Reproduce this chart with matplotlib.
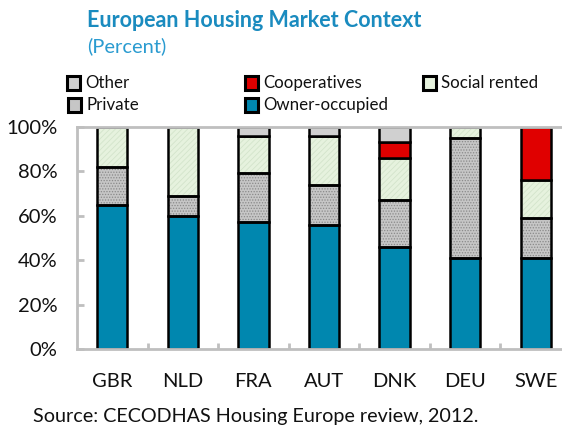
import numpy as np
import matplotlib
matplotlib.use("Agg")
import matplotlib.pyplot as plt
from matplotlib.patches import Rectangle

plt.rcParams['font.family'] = ['Lato', 'DejaVu Sans']
plt.rcParams['hatch.linewidth'] = 0.6

# data (percent of housing stock)
countries = ["GBR", "NLD", "FRA", "AUT", "DNK", "DEU", "SWE"]
owner = [65, 60, 57, 56, 46, 41, 41]
private = [17, 9, 22, 18, 21, 54, 18]
social = [18, 31, 17, 22, 19, 5, 17]
coops = [0, 0, 0, 0, 7, 0, 24]
other = [0, 0, 4, 4, 7, 0, 0]

series = [
    ("Owner-occupied", owner, "#0087AF", None, None),
    ("Private", private, "#C6C6C6", "......", "#8A8A8A"),
    ("Social rented", social, "#E6F2DE", "//////", "#D3E4CB"),
    ("Cooperatives", coops, "#E00000", None, None),
    ("Other", other, "#D0D0D0", None, None),
]

fig = plt.figure(figsize=(5.62, 4.25), dpi=100)
ax = fig.add_axes([0.137, 0.178, 0.879, 0.524])

x = np.arange(len(countries))
width = 0.43
bottom = np.zeros(len(countries))
for name, vals, color, hatch, hcol in series:
    vals = np.array(vals, dtype=float)
    if hatch:
        ax.bar(x, vals, width, bottom=bottom, color=color, hatch=hatch,
               edgecolor=hcol, linewidth=0, zorder=2)
        ax.bar(x, vals, width, bottom=bottom, fill=False,
               edgecolor="black", linewidth=1.8, zorder=3)
    else:
        ax.bar(x, vals, width, bottom=bottom, color=color,
               edgecolor="black", linewidth=1.8, zorder=3)
    bottom += vals

ax.set_xlim(-0.5, len(countries) - 0.5)
ax.set_ylim(0, 100)
ax.set_yticks([0, 20, 40, 60, 80, 100])
ax.set_yticklabels([f"{v}%" for v in [0, 20, 40, 60, 80, 100]])
ax.set_xticks(x)
ax.set_xticklabels(countries)
ax.set_xticks(np.arange(0.5, len(countries) - 1, 1.0), minor=True)

for s in ax.spines.values():
    s.set_color("#BFBFBF")
    s.set_linewidth(2)
    s.set_zorder(4)

ax.tick_params(axis="y", direction="in", length=5, width=2, color="#BFBFBF",
               pad=14, labelsize=14.5, labelcolor="#111111")
ax.tick_params(axis="x", which="major", length=0, pad=17, labelsize=14.5,
               labelcolor="#111111")
ax.tick_params(axis="x", which="minor", direction="in", length=4, width=2,
               color="#BFBFBF")

# titles
fig.text(87 / 562, 0.937, "European Housing Market Context", fontsize=15.5,
         fontweight="bold", color="#1A8BBF", va="baseline")
fig.text(87 / 562, 0.878, "(Percent)", fontsize=14.5, color="#2A9BD0",
         va="baseline")

# legend, laid out as in the original
legend_items = [
    ("Other", "#D0D0D0", 67, 83),
    ("Cooperatives", "#E00000", 245, 83),
    ("Social rented", "#E6F2DE", 423, 83),
    ("Private", "#C6C6C6", 68, 105),
    ("Owner-occupied", "#0087AF", 245, 105),
]
W, H = 562.0, 425.0
for label, color, px, py in legend_items:
    sz = 13
    r = Rectangle((px / W, (H - py - sz / 2) / H), sz / W, sz / H,
                  transform=fig.transFigure, facecolor=color,
                  edgecolor="black", linewidth=2.2)
    fig.patches.append(r)
    fig.text((px + 18) / W, (H - py) / H, label, fontsize=12.2,
             va="center", color="#111111")

fig.text(33 / 562, 0.008, "Source: CECODHAS Housing Europe review, 2012.",
         fontsize=14.2, color="#111111", va="baseline")

fig.savefig("out.png", dpi=100)
